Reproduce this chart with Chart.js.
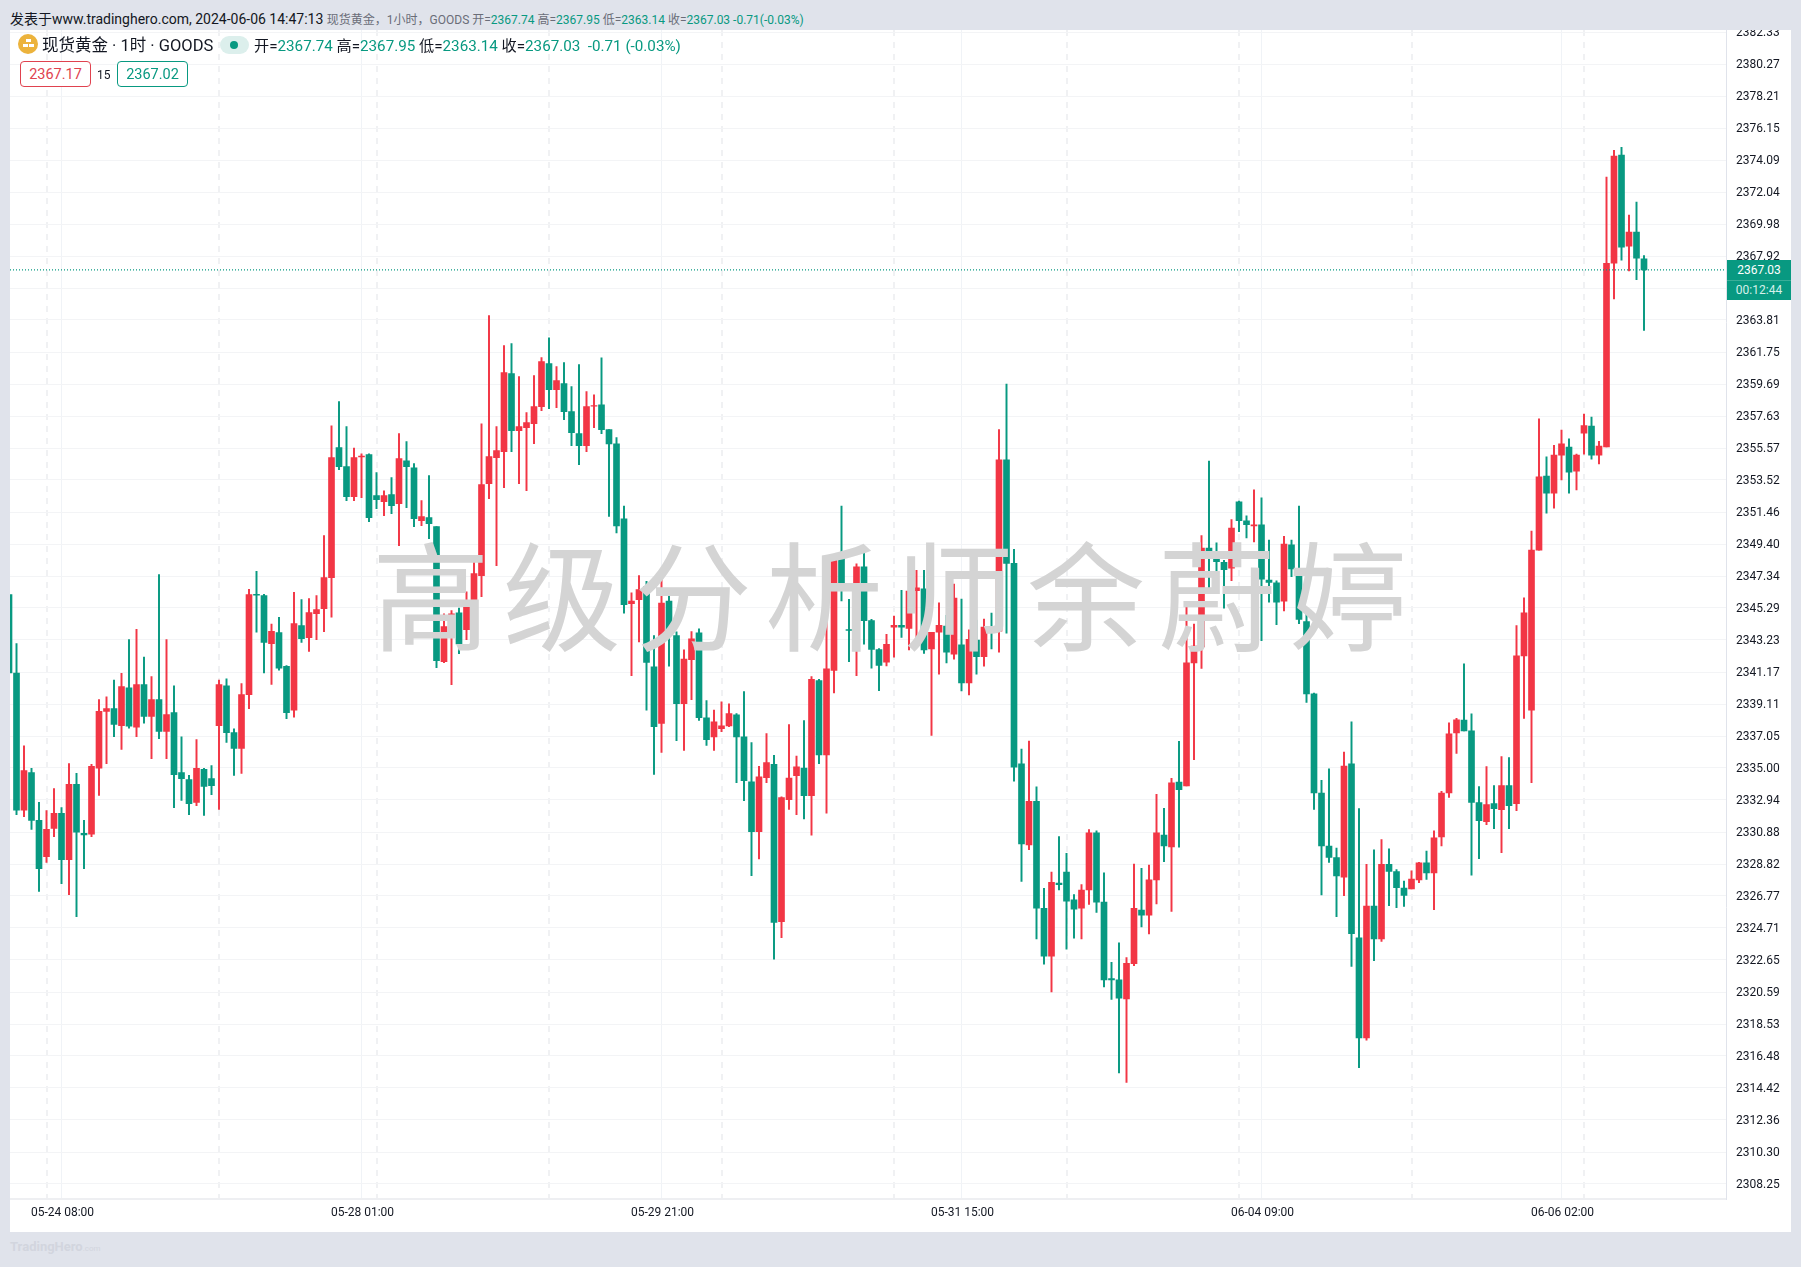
<!DOCTYPE html>
<html lang="zh">
<head>
<meta charset="UTF-8" />
<title>现货黄金 1小时 GOODS</title>
<script src="https://cdn.jsdelivr.net/npm/chart.js"></script>
<style>
  * { margin: 0; padding: 0; box-sizing: border-box; }
  html, body { width: 1801px; height: 1267px; overflow: hidden; }
  body { background: #e0e3eb; font-family: Roboto, "Noto Sans CJK SC", sans-serif; color: #131722; position: relative; }
  .abs { position: absolute; white-space: nowrap; }
  #topline { left: 10px; top: 10px; font-size: 14px; line-height: 18px; }
  #topline small { font-size: 12px; color: #6a6d78; }
  #topline b, #legend b { font-weight: 400; color: #089981; }
  #panel { position: absolute; left: 10px; top: 30px; width: 1781px; height: 1202px; background: #fff; overflow: hidden; }
  #legend-name { left: 42px; top: 35px; font-size: 16.5px; line-height: 22px; }
  #logo { left: 18px; top: 34px; width: 20px; height: 20px; border-radius: 50%; background: #ecb33c; }
  #logo i { position: absolute; width: 5px; height: 3px; background: #fff; }
  #pill { left: 220px; top: 36px; width: 29px; height: 18px; border-radius: 9px; background: #dcefec; }
  #pill i { position: absolute; left: 10px; top: 5px; width: 8px; height: 8px; border-radius: 50%; background: #089981; }
  #legend { left: 254px; top: 36px; font-size: 15.2px; line-height: 20px; color: #131722; }
  .box { top: 61px; width: 71px; height: 26px; border-radius: 4px; background: #fff; font-size: 14.5px; line-height: 26px; text-align: center; border: 1px solid; }
  #ask { left: 20px; color: #e0424f; border-color: #e0424f; }
  #bid { left: 117px; color: #089981; border-color: #089981; }
  #spread { left: 97px; top: 66px; font-size: 12px; line-height: 18px; }
  #watermark { left: 372px; top: 516px; font-family: "Noto Sans CJK SC"; font-size: 118px; font-weight: 400; line-height: 150px; letter-spacing: 13px; color: #d4d4d4; }
  #pricebox { left: 1727px; top: 259.5px; width: 64px; height: 40px; background: #089981; color: #fff; font-size: 12px; text-align: center; line-height: 20px; }
  #pricebox div + div { border-top: 1px solid #3aae98; line-height: 19px; color: #d6f0ea; }
  #brand { left: 10px; top: 1238px; font-size: 13px; line-height: 18px; font-weight: 700; color: #d2d5de; }
  #brand small { font-size: 8px; font-weight: 400; }
</style>
</head>
<body>

<div class="abs" id="topline">发表于www.tradinghero.com, 2024-06-06 14:47:13 <small>现货黄金，1小时，GOODS 开=<b>2367.74</b> 高=<b>2367.95</b> 低=<b>2363.14</b> 收=<b>2367.03</b> <b>-0.71(-0.03%)</b></small></div>
<div id="panel"><canvas id="chart" width="1781" height="1202"></canvas></div>
<div class="abs" id="logo"><i style="left:7.5px;top:5px"></i><i style="left:4.5px;top:10px"></i><i style="left:10.5px;top:10px"></i></div>
<div class="abs" id="legend-name">现货黄金 · 1时 · GOODS</div>
<div class="abs" id="pill"><i></i></div>
<div class="abs" id="legend">开=<b>2367.74</b> 高=<b>2367.95</b> 低=<b>2363.14</b> 收=<b>2367.03</b> &nbsp;<b>-0.71 (-0.03%)</b></div>
<div class="abs box" id="ask">2367.17</div>
<div class="abs" id="spread">15</div>
<div class="abs box" id="bid">2367.02</div>
<div class="abs" id="watermark">高级分析师余蔚婷</div>
<div class="abs" id="pricebox"><div>2367.03</div><div>00:12:44</div></div>
<div class="abs" id="brand">TradingHero<small>.com</small></div>

<script>
const opens = [
  2346.15,2341.11,2332.29,2334.70,2331.63,2329.30,2331.11,2332.08,2329.11,2333.94,
  2330.79,2330.74,2334.99,2338.64,2338.82,2337.72,2340.16,2337.62,2340.37,2338.32,
  2339.40,2337.35,2338.56,2334.70,2334.26,2332.79,2334.91,2334.31,2337.72,2340.29,
  2337.27,2336.25,2339.72,2346.17,2346.09,2343.00,2343.71,2341.53,2338.72,2344.15,
  2343.38,2344.92,2345.25,2347.24,2355.60,2354.38,2352.45,2355.00,2355.15,2352.51,
  2352.13,2352.58,2352.00,2354.76,2354.31,2350.91,2351.10,2350.52,2341.84,2344.09,
  2344.97,2343.90,2345.76,2347.37,2353.28,2354.96,2355.34,2360.36,2356.69,2356.89,
  2357.14,2358.24,2361.00,2359.33,2359.72,2357.92,2356.50,2355.73,2358.26,2358.36,
  2356.76,2355.84,2351.02,2345.56,2345.82,2346.66,2341.51,2337.87,2345.74,2343.51,
  2339.13,2341.96,2343.69,2338.23,2337.00,2337.52,2337.71,2338.42,2337.00,2334.11,
  2330.91,2334.37,2335.24,2325.11,2332.96,2334.51,2335.00,2333.22,2340.62,2335.84,
  2341.28,2348.71,2343.90,2343.93,2347.94,2344.48,2342.62,2341.81,2344.06,2344.18,
  2343.97,2346.40,2346.52,2342.66,2343.73,2344.12,2342.32,2342.92,2340.47,2343.22,
  2342.15,2344.00,2343.79,2354.81,2348.16,2335.26,2330.05,2332.86,2325.98,2322.89,
  2327.59,2328.31,2326.52,2325.98,2327.15,2330.83,2326.37,2321.46,2321.37,2320.14,
  2322.41,2325.86,2325.53,2327.80,2330.68,2329.93,2334.10,2333.84,2341.76,2342.79,
  2349.14,2348.51,2348.22,2347.85,2352.11,2350.90,2350.56,2350.64,2347.09,2346.91,
  2345.73,2349.35,2347.80,2344.42,2339.77,2333.39,2329.98,2329.24,2327.98,2335.26,
  2324.07,2317.64,2326.12,2324.00,2328.80,2328.33,2327.28,2327.22,2327.80,2328.90,
  2328.25,2330.56,2333.39,2337.25,2338.08,2337.39,2332.77,2331.55,2332.71,2332.32,
  2333.86,2332.71,2342.21,2338.71,2349.01,2353.77,2352.68,2355.12,2355.64,2354.09,
  2356.53,2356.99,2355.12,2355.64,2367.46,2374.41,2368.55,2369.47,2367.74
];
const highs = [
  2346.15,2343.00,2336.43,2334.97,2332.79,2332.26,2333.68,2332.45,2335.28,2334.65,
  2331.63,2335.23,2339.40,2339.58,2340.66,2341.08,2343.26,2343.91,2342.13,2340.87,
  2347.43,2343.26,2340.29,2337.01,2334.52,2336.83,2334.97,2335.15,2340.66,2340.74,
  2337.51,2340.42,2346.49,2347.64,2346.17,2344.26,2344.68,2341.58,2346.30,2345.83,
  2345.89,2346.08,2349.94,2357.01,2358.56,2356.95,2355.58,2355.21,2355.21,2353.99,
  2352.83,2353.67,2356.50,2355.99,2354.57,2352.19,2353.80,2350.52,2344.92,2345.12,
  2345.29,2346.32,2348.46,2357.14,2364.09,2356.95,2362.16,2362.29,2360.17,2357.85,
  2360.23,2361.39,2362.67,2360.81,2361.07,2359.52,2360.94,2359.20,2358.99,2361.38,
  2356.76,2356.24,2351.85,2346.26,2347.37,2347.00,2343.51,2347.21,2346.47,2343.75,
  2342.59,2343.77,2343.95,2339.34,2338.73,2339.26,2339.13,2338.50,2339.91,2336.63,
  2335.11,2337.21,2335.82,2333.14,2337.79,2335.77,2338.05,2340.88,2340.70,2345.11,
  2348.65,2351.85,2345.84,2348.13,2348.92,2344.56,2342.67,2343.60,2344.77,2346.42,
  2347.56,2347.71,2347.71,2343.73,2345.62,2344.81,2346.82,2345.86,2343.88,2344.51,
  2344.57,2344.96,2356.76,2359.69,2349.06,2336.22,2336.73,2333.79,2327.26,2328.31,
  2330.59,2329.51,2326.85,2327.50,2331.04,2330.95,2328.25,2322.50,2323.76,2322.80,
  2328.82,2328.55,2328.76,2333.31,2332.41,2334.34,2336.72,2345.47,2344.26,2349.95,
  2354.73,2349.48,2348.35,2350.98,2352.16,2351.21,2352.89,2352.37,2349.66,2347.04,
  2349.90,2349.66,2351.84,2345.20,2339.82,2334.21,2334.94,2329.85,2336.02,2337.96,
  2332.39,2328.80,2329.74,2330.40,2329.80,2328.46,2327.72,2328.38,2328.93,2329.66,
  2330.95,2333.50,2337.91,2338.19,2341.69,2338.48,2333.80,2335.09,2333.86,2335.73,
  2335.66,2344.16,2345.94,2350.24,2357.45,2355.01,2355.75,2356.73,2356.16,2355.18,
  2357.76,2357.56,2356.01,2373.00,2374.72,2374.92,2370.56,2371.39,2367.95
];
const lows = [
  2340.90,2332.00,2331.87,2331.05,2327.06,2328.93,2330.58,2327.56,2326.85,2325.44,
  2328.53,2330.58,2333.23,2335.28,2337.01,2336.20,2337.56,2337.01,2337.88,2335.59,
  2336.88,2335.59,2332.45,2332.92,2332.00,2332.58,2331.95,2333.29,2332.34,2336.64,
  2334.52,2334.65,2338.82,2343.73,2341.11,2340.37,2341.29,2338.17,2338.27,2343.08,
  2342.50,2343.25,2343.77,2344.69,2354.19,2352.19,2352.19,2352.38,2350.84,2351.68,
  2351.23,2351.36,2349.30,2351.74,2350.52,2350.58,2349.75,2341.45,2341.77,2340.36,
  2342.35,2343.25,2343.64,2346.02,2352.32,2348.01,2353.03,2355.34,2353.28,2352.83,
  2355.86,2357.98,2358.11,2358.17,2357.40,2355.73,2354.51,2355.34,2356.89,2356.50,
  2351.17,2350.12,2344.95,2340.94,2343.11,2338.71,2334.58,2336.00,2341.54,2336.76,
  2336.13,2339.39,2338.05,2336.45,2336.13,2337.34,2337.66,2334.06,2332.90,2328.08,
  2329.15,2334.06,2322.70,2324.09,2332.33,2331.99,2331.72,2330.67,2335.27,2332.09,
  2339.83,2345.74,2341.83,2340.94,2342.96,2341.41,2339.97,2341.57,2342.13,2343.40,
  2342.59,2343.16,2342.36,2337.09,2341.04,2341.76,2342.00,2339.96,2339.69,2341.04,
  2341.55,2342.66,2342.44,2343.67,2334.15,2327.71,2329.75,2324.00,2322.38,2320.59,
  2327.15,2323.34,2324.06,2324.00,2326.22,2325.71,2320.92,2320.11,2315.38,2314.78,
  2322.29,2324.78,2324.33,2326.25,2328.97,2325.78,2329.90,2333.84,2335.54,2341.40,
  2346.38,2346.59,2345.28,2347.04,2350.19,2349.80,2349.53,2343.18,2345.67,2344.21,
  2345.10,2347.30,2344.28,2339.22,2332.34,2326.83,2328.93,2325.44,2326.78,2322.24,
  2315.73,2317.49,2322.60,2323.84,2326.15,2326.02,2326.10,2327.22,2327.62,2327.83,
  2325.88,2329.98,2333.10,2335.94,2337.39,2328.10,2329.17,2331.36,2331.10,2329.56,
  2331.10,2332.26,2338.19,2334.06,2349.01,2351.39,2351.71,2353.52,2352.68,2352.88,
  2355.18,2354.86,2354.55,2355.64,2365.17,2367.66,2366.97,2366.40,2363.14
];
const closes = [
  2341.11,2332.29,2334.83,2331.63,2328.53,2331.05,2332.08,2329.11,2333.94,2330.87,
  2330.69,2335.10,2338.64,2338.82,2337.80,2340.24,2337.69,2340.37,2338.32,2339.40,
  2337.35,2338.43,2334.57,2334.31,2332.71,2334.97,2333.81,2333.86,2340.37,2337.27,
  2336.25,2339.72,2346.15,2346.12,2343.08,2343.78,2341.42,2338.56,2344.28,2343.32,
  2344.99,2345.18,2347.24,2354.96,2354.38,2352.45,2354.96,2355.06,2351.10,2352.26,
  2352.51,2351.87,2354.89,2354.38,2351.03,2351.16,2350.71,2341.90,2344.09,2344.92,
  2342.97,2345.76,2347.50,2353.22,2355.02,2355.41,2360.42,2356.69,2356.95,2357.21,
  2358.24,2361.13,2359.33,2359.91,2357.92,2356.56,2355.73,2358.24,2358.31,2356.76,
  2355.84,2350.57,2345.50,2345.74,2346.47,2341.78,2337.66,2345.61,2343.56,2339.13,
  2342.01,2343.30,2338.23,2336.82,2337.97,2337.71,2338.50,2337.00,2334.19,2330.91,
  2334.43,2335.35,2325.06,2333.09,2334.35,2335.08,2333.22,2340.70,2335.84,2341.38,
  2348.65,2346.79,2343.85,2347.94,2344.48,2342.62,2341.59,2342.95,2344.18,2344.06,
  2346.37,2346.58,2342.59,2343.73,2344.18,2342.44,2345.92,2340.47,2343.28,2342.15,
  2344.06,2343.91,2354.81,2348.16,2335.05,2330.11,2332.86,2325.98,2322.89,2327.65,
  2327.50,2326.43,2325.92,2327.15,2330.83,2326.37,2321.37,2321.37,2320.20,2322.44,
  2325.98,2325.53,2327.80,2330.83,2329.99,2334.05,2333.60,2341.76,2342.84,2349.14,
  2348.48,2348.27,2347.75,2350.43,2350.90,2350.64,2350.64,2347.14,2346.93,2345.67,
  2349.40,2347.80,2344.55,2339.77,2333.39,2329.98,2329.24,2328.06,2335.12,2324.34,
  2317.64,2326.12,2324.00,2328.80,2328.35,2327.30,2326.80,2327.85,2328.90,2328.25,
  2330.50,2333.39,2337.20,2338.09,2337.39,2332.79,2331.61,2332.64,2332.38,2333.86,
  2332.58,2342.21,2344.97,2349.01,2353.72,2352.68,2355.12,2355.84,2354.03,2355.12,
  2357.02,2355.12,2355.70,2367.46,2374.35,2368.49,2369.47,2367.78,2367.03
];
const yTicks = [
  2308.25,2310.30,2312.36,2314.42,2316.48,2318.53,2320.59,2322.65,2324.71,2326.77,
  2328.82,2330.88,2332.94,2335.00,2337.05,2339.11,2341.17,2343.23,2345.29,2347.34,
  2349.40,2351.46,2353.52,2355.57,2357.63,2359.69,2361.75,2363.81,2365.86,2367.92,
  2369.98,2372.04,2374.09,2376.15,2378.21,2380.27,2382.33
];
const xTickBars = [7, 47, 87, 127, 167, 207];
const xTickLabels = ['05-24 08:00', '05-28 01:00', '05-29 21:00', '05-31 15:00', '06-04 09:00', '06-06 02:00'];
const sessionBars = [5, 28, 49, 72, 95, 118, 141, 164, 187, 210];
const lastPrice = 2367.03;

const UP = '#f23645', DOWN = '#089981';
const xMin = 0.1333, xMax = 228.9333;
const candleColor = opens.map((o, i) => closes[i] > o ? UP : DOWN);

// the axes would otherwise reserve room for their outer labels
function noPadding(s) {
  s.paddingTop = s.paddingBottom = s.paddingLeft = s.paddingRight = 0;
}

new Chart(document.getElementById('chart'), {
  type: 'bar',
  data: {
    datasets: [
      {
        label: 'wick',
        data: opens.map((o, i) => ({ x: i, y: [lows[i], highs[i]] })),
        backgroundColor: candleColor,
        barThickness: 1.3,
        grouped: false,
        order: 2
      },
      {
        label: 'body',
        data: opens.map((o, i) => ({ x: i, y: [o, closes[i]] })),
        backgroundColor: candleColor,
        barThickness: 6,
        grouped: false,
        order: 1
      },
      {
        type: 'line',
        label: 'last',
        data: [{ x: xMin, y: lastPrice }, { x: xMax, y: lastPrice }],
        borderColor: DOWN,
        borderWidth: 1.4,
        borderDash: [1, 2],
        pointRadius: 0,
        order: 0
      }
    ]
  },
  options: {
    responsive: false,
    animation: false,
    layout: { padding: 0 },
    plugins: { legend: { display: false }, tooltip: { enabled: false } },
    scales: {
      x: {
        type: 'linear',
        min: xMin,
        max: xMax,
        offset: false,
        position: 'bottom',
        afterBuildTicks: s => { s.ticks = xTickBars.map(v => ({ value: v })); },
        afterFit: s => { s.height = 32.7; noPadding(s); },
        ticks: {
          autoSkip: false,
          maxRotation: 0,
          padding: 6,
          labelOffset: 1,
          color: '#131722',
          font: { family: 'Roboto', size: 12 },
          callback: v => xTickLabels[xTickBars.indexOf(v)]
        },
        grid: { color: '#f0f3f7', lineWidth: 1, drawTicks: false, offset: false },
        border: { color: '#eeeff2', width: 2 }
      },
      sessions: {
        type: 'linear',
        axis: 'x',
        min: xMin,
        max: xMax,
        offset: false,
        position: 'bottom',
        afterBuildTicks: s => { s.ticks = sessionBars.map(v => ({ value: v })); },
        afterFit: s => { s.height = 0; noPadding(s); },
        ticks: { display: false },
        grid: { color: '#f0f1f3', lineWidth: 2, drawTicks: false, offset: false },
        border: { display: false, dash: [6, 6] }
      },
      y: {
        position: 'right',
        min: 2307.26,
        max: 2382.46,
        afterBuildTicks: s => { s.ticks = yTicks.map(v => ({ value: v })); },
        afterFit: s => { s.width = 65; noPadding(s); },
        ticks: {
          autoSkip: false,
          padding: 10,
          labelOffset: 1,
          color: '#131722',
          font: { family: 'Roboto', size: 12 },
          callback: v => v.toFixed(2)
        },
        grid: { color: '#f3f4f6', lineWidth: 1, drawTicks: false },
        border: { color: '#e0e3eb', width: 1 }
      }
    }
  }
});
</script>
</body>
</html>
